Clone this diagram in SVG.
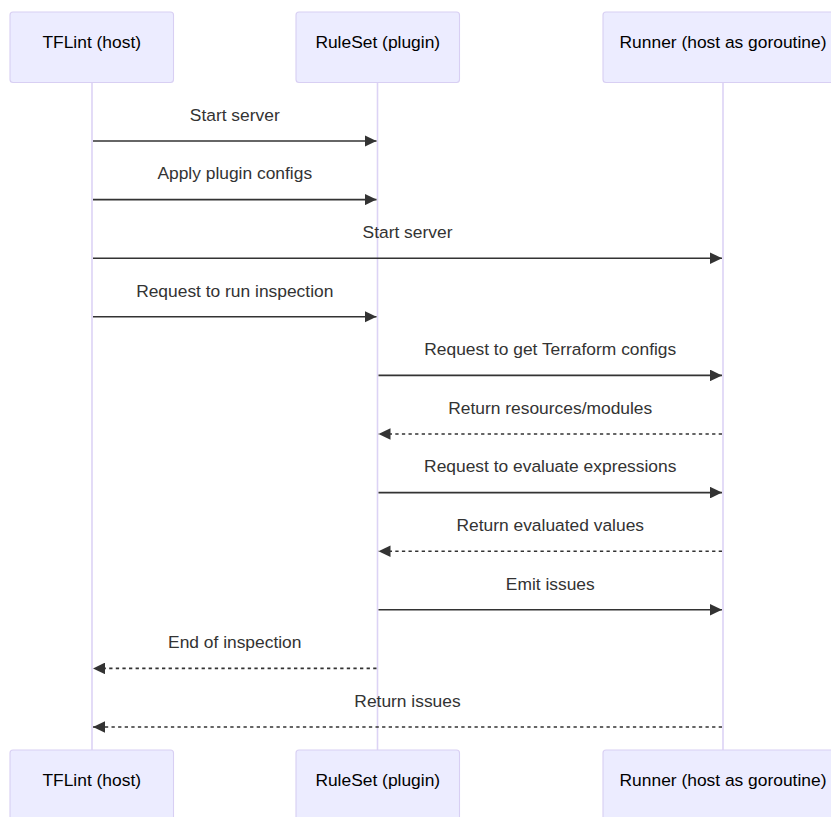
<svg xmlns="http://www.w3.org/2000/svg" width="831" height="817" viewBox="0 0 831 817">
<style>
.actor{fill:#ECECFF;stroke:#D8CFF3;stroke-width:1.1}
.atext{font-family:"Liberation Sans",Arial,sans-serif;font-size:17.4px;fill:#000;text-anchor:middle}
.lifeline{stroke:#DCD3F5;stroke-width:1.6;fill:none}
.msg{stroke:#333;stroke-width:1.6;fill:none;marker-end:url(#arrow)}
.dash{stroke-dasharray:3.3,3.3}
.mtext{font-family:"Liberation Sans",Arial,sans-serif;font-size:17.4px;fill:#333;text-anchor:middle}
</style>
<defs>
<marker id="arrow" viewBox="0 0 12 11.6" refX="12" refY="5.8" markerWidth="12" markerHeight="11.6" markerUnits="userSpaceOnUse" orient="auto">
<path d="M0,0 L12,5.8 L0,11.6 z" fill="#333"/>
</marker>
</defs>
<rect width="831" height="817" fill="#fff"/>
<g id="lifelines">
<line class="lifeline" x1="92" y1="82.5" x2="92" y2="750"/>
<line class="lifeline" x1="377.5" y1="82.5" x2="377.5" y2="750"/>
<line class="lifeline" x1="723" y1="82.5" x2="723" y2="750"/>
</g>
<g id="tflint-top"><rect class="actor" x="10" y="12" width="163.5" height="70.5" rx="3"/><text class="atext" x="91.75" y="47.7">TFLint (host)</text></g>
<g id="ruleset-top"><rect class="actor" x="296" y="12" width="163.5" height="70.5" rx="3"/><text class="atext" x="377.75" y="47.7">RuleSet (plugin)</text></g>
<g id="runner-top"><rect class="actor" x="603" y="12" width="240" height="70.5" rx="3"/><text class="atext" x="723" y="47.7">Runner (host as goroutine)</text></g>
<g id="tflint-bottom"><rect class="actor" x="10" y="750" width="163.5" height="70.5" rx="3"/><text class="atext" x="91.75" y="786">TFLint (host)</text></g>
<g id="ruleset-bottom"><rect class="actor" x="296" y="750" width="163.5" height="70.5" rx="3"/><text class="atext" x="377.75" y="786">RuleSet (plugin)</text></g>
<g id="runner-bottom"><rect class="actor" x="603" y="750" width="240" height="70.5" rx="3"/><text class="atext" x="723" y="786">Runner (host as goroutine)</text></g>
<g id="connectors">
<line class="msg" x1="93" y1="141" x2="376.5" y2="141"/>
<text class="mtext" x="234.75" y="120.7">Start server</text>
<line class="msg" x1="93" y1="199.6" x2="376.5" y2="199.6"/>
<text class="mtext" x="234.75" y="179.3">Apply plugin configs</text>
<line class="msg" x1="93" y1="258.2" x2="722" y2="258.2"/>
<text class="mtext" x="407.5" y="237.9">Start server</text>
<line class="msg" x1="93" y1="316.8" x2="376.5" y2="316.8"/>
<text class="mtext" x="234.75" y="296.5">Request to run inspection</text>
<line class="msg" x1="378.5" y1="375.4" x2="722" y2="375.4"/>
<text class="mtext" x="550.25" y="355.1">Request to get Terraform configs</text>
<line class="msg dash" x1="722" y1="434" x2="378.5" y2="434"/>
<text class="mtext" x="550.25" y="413.7">Return resources/modules</text>
<line class="msg" x1="378.5" y1="492.6" x2="722" y2="492.6"/>
<text class="mtext" x="550.25" y="472.3">Request to evaluate expressions</text>
<line class="msg dash" x1="722" y1="551.2" x2="378.5" y2="551.2"/>
<text class="mtext" x="550.25" y="530.9">Return evaluated values</text>
<line class="msg" x1="378.5" y1="609.8" x2="722" y2="609.8"/>
<text class="mtext" x="550.25" y="589.5">Emit issues</text>
<line class="msg dash" x1="376.5" y1="668.4" x2="93" y2="668.4"/>
<text class="mtext" x="234.75" y="648.1">End of inspection</text>
<line class="msg dash" x1="722" y1="727" x2="93" y2="727"/>
<text class="mtext" x="407.5" y="706.7">Return issues</text>
</g>
</svg>
